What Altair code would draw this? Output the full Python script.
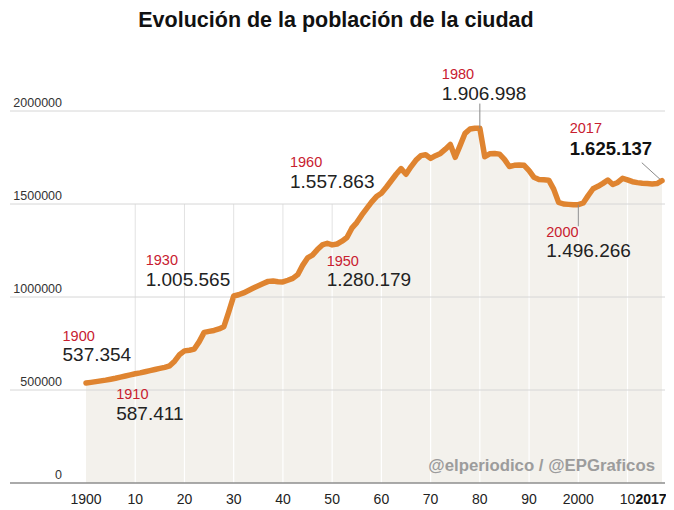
import altair as alt
import pandas as pd

# ---------------- data ----------------
years = list(range(1900, 2018))
population = [
    537354, 541000, 545000, 549000, 553000, 558000, 563000, 569000, 575000, 581000,
    587411, 592000, 598000, 604000, 610000, 616000, 622000, 630000, 655000, 690000,
    710335, 714000, 720000, 760000, 810000, 815000, 820000, 828000, 840000, 920000,
    1005565, 1012000, 1022000, 1035000, 1048000, 1060000, 1072000, 1084000, 1086000, 1082000,
    1081175, 1090000, 1100000, 1120000, 1170000, 1210000, 1225000, 1255000, 1280000, 1289000,
    1280179, 1285000, 1300000, 1320000, 1370000, 1400000, 1440000, 1475000, 1510000, 1540000,
    1557863, 1590000, 1625000, 1660000, 1690000, 1660000, 1700000, 1735000, 1760000, 1765000,
    1745142, 1760000, 1772000, 1795000, 1820000, 1751136, 1815000, 1880000, 1903000, 1907000,
    1906998, 1754000, 1770000, 1772000, 1768000, 1740000, 1701812, 1708000, 1710000, 1708000,
    1680000, 1643542, 1632000, 1630000, 1628000, 1580000, 1508805, 1500000, 1498000, 1496000,
    1496266, 1505325, 1545000, 1582000, 1595000, 1611000, 1629000, 1605000, 1616000, 1638000,
    1630000, 1620000, 1615000, 1612000, 1610000, 1608000, 1610000, 1625137,
]

y_ticks = [0, 500000, 1000000, 1500000, 2000000]
y_tick_labels = ["0", "500000", "1000000", "1500000", "2000000"]
x_ticks = [1900, 1910, 1920, 1930, 1940, 1950, 1960, 1970, 1980, 1990, 2000, 2010, 2017]
x_tick_labels = ["1900", "10", "20", "30", "40", "50", "60", "70", "80", "90", "2000", "10", "2017"]
decades = [1910, 1920, 1930, 1940, 1950, 1960, 1970, 1980, 1990, 2000, 2010]

ann_years = [1900, 1910, 1930, 1950, 1960, 1980, 2000, 2017]
ann_values = [537354, 587411, 1005565, 1280179, 1557863, 1906998, 1496266, 1625137]
ann_value_labels = ["537.354", "587.411", "1.005.565", "1.280.179",
                    "1.557.863", "1.906.998", "1.496.266", "1.625.137"]

# leader lines (data space)
lead_x = [1980, 2000, 2012.9]
lead_y = [1906998, 1496266, 1722000]
lead_x2 = [1980, 2000, 2016.6]
lead_y2 = [2040000, 1380000, 1633000]

title_text = "Evolución de la población de la ciudad"
credit_text = "@elperiodico / @EPGraficos"

# ---------------- layout / style ----------------
W, H = 658, 462
PAD_TOP = 36
PX_YEAR = 4.923           # pixels per year
X1900 = 78                # chart px of year 1900
Y0 = 439                  # chart px of value 0
PX_UNIT = 372 / 2_000_000 # pixels per inhabitant
FONT = "Liberation Sans"
ORANGE = "#DF8430"
RED = "#C8202F"
DARK = "#222222"
AREA = "#F3F1EC"
GRID = "#D6D6D6"

def yr_at(px):
    return 1900 + (px - X1900) / PX_YEAR

def val_at(px):
    return (Y0 - px) / PX_UNIT

xs = alt.Scale(domain=[yr_at(0), yr_at(W)], nice=False, zero=False)
ys = alt.Scale(domain=[val_at(H), val_at(0)], nice=False, zero=False)

def X(f):
    return alt.X(f, scale=xs, axis=None)

def Y(f):
    return alt.Y(f, scale=ys, axis=None)

df = pd.DataFrame({"year": years, "pop": population})

# annotation offsets in pixels from the annotated point
ann_dx = [-23.5, -19, -88, -5.5, -91.4, -38, -32, -92.3]
ann_dy_year = [-46.4, 21.3, -34.5, 17.6, -30, -53.3, 28.6, -51.7]
ann_dy_val = [-28, 40.3, -15.5, 35, -11.5, -34.3, 46, -31.7]

ann = pd.DataFrame({
    "x": [y + dx / PX_YEAR for y, dx in zip(ann_years, ann_dx)],
    "yy": [v - d / PX_UNIT for v, d in zip(ann_values, ann_dy_year)],
    "yv": [v - d / PX_UNIT for v, d in zip(ann_values, ann_dy_val)],
    "year_label": [str(y) for y in ann_years],
    "value_label": ann_value_labels,
    "last": [y == 2017 for y in ann_years],
})

pop_by_year = dict(zip(years, population))
vgrid = pd.DataFrame({"year": decades, "top": [pop_by_year[d] for d in decades]})
vgrid_gray = vgrid[vgrid["top"] < 1500000].assign(upper=1500000)

grid = pd.DataFrame({"v": y_ticks, "label": y_tick_labels,
                     "x1": yr_at(2), "x2": yr_at(657),
                     "lx": yr_at(54), "ly": [v + 4 / PX_UNIT for v in y_ticks]})

x_tick_dx = [0] * 12 + [-11]
xt = pd.DataFrame({"x": [t + d / PX_YEAR for t, d in zip(x_ticks, x_tick_dx)],
                   "label": x_tick_labels,
                   "y": -17 / PX_UNIT,
                   "bold": [t == 2017 for t in x_ticks]})

leaders = pd.DataFrame({"x": lead_x, "y": lead_y, "x2": lead_x2, "y2": lead_y2})
credit = pd.DataFrame({"x": [yr_at(647)], "y": [val_at(466 - 44)], "t": [credit_text]})
title = pd.DataFrame({"x": [yr_at(328)], "y": [val_at(27 - 44)], "t": [title_text]})

# ---------------- layers ----------------
area = alt.Chart(df).mark_area(color=AREA).encode(
    x=X("year:Q"), y=Y("pop:Q"), y2=alt.datum(0))

v_white = alt.Chart(vgrid).mark_rule(color="white", strokeWidth=1.2).encode(
    x=X("year:Q"), y=Y("top:Q"), y2=alt.datum(0))

v_gray = alt.Chart(vgrid_gray).mark_rule(color="#E2E2E2", strokeWidth=1).encode(
    x=X("year:Q"), y=Y("top:Q"), y2="upper:Q")

hgrid = alt.Chart(grid[grid["v"] > 0]).mark_rule(color=GRID, strokeWidth=1).encode(
    x=X("x1:Q"), x2="x2:Q", y=Y("v:Q"))

base = alt.Chart(grid[grid["v"] == 0]).mark_rule(color="#8E8E8E", strokeWidth=1.5).encode(
    x=X("x1:Q"), x2="x2:Q", y=Y("v:Q"))

ylabels = alt.Chart(grid).mark_text(font=FONT, fontSize=12.5, align="right",
                                    baseline="alphabetic", color="#333333").encode(
    x=X("lx:Q"), y=Y("ly:Q"), text="label:N")

line = alt.Chart(df).mark_line(color=ORANGE, strokeWidth=5.5, strokeCap="round",
                               strokeJoin="round").encode(
    x=X("year:Q"), y=Y("pop:Q"))

lead = alt.Chart(leaders).mark_rule(color="#8A8A8A", strokeWidth=1).encode(
    x=X("x:Q"), y=Y("y:Q"), x2="x2:Q", y2="y2:Q")

ann_year_txt = alt.Chart(ann).mark_text(font=FONT, fontSize=14.5, align="left",
                                        baseline="middle", color=RED).encode(
    x=X("x:Q"), y=Y("yy:Q"), text="year_label:N")

ann_val_txt = alt.Chart(ann[~ann["last"]]).mark_text(font=FONT, fontSize=19, align="left",
                                                     baseline="middle", color=DARK).encode(
    x=X("x:Q"), y=Y("yv:Q"), text="value_label:N")

ann_val_last = alt.Chart(ann[ann["last"]]).mark_text(font=FONT, fontSize=18.5, align="left",
                                                     baseline="middle", color="#111111",
                                                     fontWeight="bold").encode(
    x=X("x:Q"), y=Y("yv:Q"), text="value_label:N")

xlab = alt.Chart(xt[~xt["bold"]]).mark_text(font=FONT, fontSize=14, align="center",
                                            baseline="middle", color=DARK).encode(
    x=X("x:Q"), y=Y("y:Q"), text="label:N")

xlab_b = alt.Chart(xt[xt["bold"]]).mark_text(font=FONT, fontSize=14, align="center",
                                             baseline="middle", color="#111111",
                                             fontWeight="bold").encode(
    x=X("x:Q"), y=Y("y:Q"), text="label:N")

cred = alt.Chart(credit).mark_text(font=FONT, fontSize=16.8, fontWeight="bold", align="right",
                                   baseline="middle", color="#9C9C9C").encode(
    x=X("x:Q"), y=Y("y:Q"), text="t:N")

ttl = alt.Chart(title).mark_text(font=FONT, fontSize=21.5, fontWeight="bold", align="center",
                                 baseline="alphabetic", color="#111111").encode(
    x=X("x:Q"), y=Y("y:Q"), text="t:N")

chart = alt.layer(
    area, v_white, v_gray, hgrid, base, ylabels, line, lead,
    ann_year_txt, ann_val_txt, ann_val_last, xlab, xlab_b, cred, ttl,
).properties(
    width=W, height=H,
    autosize=alt.AutoSizeParams(type="none"),
    padding={"left": 0, "top": PAD_TOP, "right": 0, "bottom": 0},
).configure_view(stroke=None)

chart.save("out.html", embed_options={"renderer": "svg", "actions": False})
